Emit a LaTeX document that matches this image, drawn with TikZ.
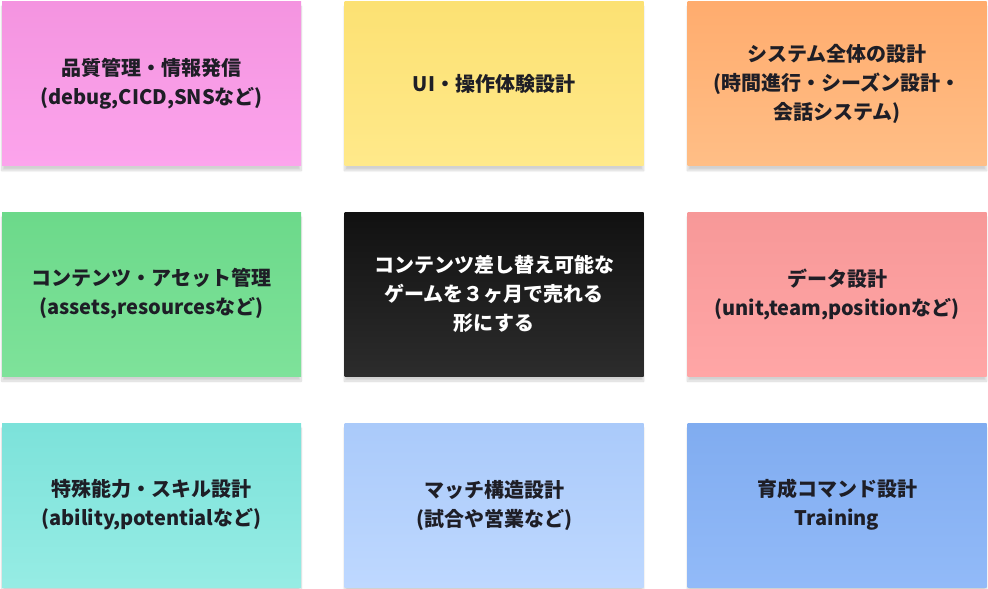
\documentclass[tikz,border=0pt]{standalone}
\usepackage{fontspec}
\usepackage{xcolor}
\usepackage{tikz}
\usetikzlibrary{shadows.blur}
\setmainfont{Noto Sans CJK JP}
\definecolor{inkdark}{HTML}{1E1E26}
\tikzstyle{note} = [rectangle, minimum width=299pt, minimum height=164pt,
inner sep=0pt, align=center, text=inkdark,
font=\fontsize{20}{29}\selectfont\bfseries,
blur shadow={shadow xshift=0pt, shadow yshift=-5pt, shadow blur steps=10, shadow opacity=18}]

\begin{document}
\begin{tikzpicture}[x=1pt, y=-1pt]
        \useasboundingbox (0,0) rectangle (988,589);
        \node [note, top color={rgb,255:red,244;green,148;blue,224}, bottom color={rgb,255:red,252;green,164;blue,236}] (quality) at (151.5,83.5)
            {品質管理・情報発信\\(debug,CICD,SNSなど)};
        \node [note, top color={rgb,255:red,252;green,225;blue,115}, bottom color={rgb,255:red,255;green,233;blue,138}] (ui) at (494,83.5)
            {UI・操作体験設計};
        \node [note, top color={rgb,255:red,255;green,172;blue,110}, bottom color={rgb,255:red,255;green,190;blue,134}] (system) at (837,83.5)
            {システム全体の設計\\(時間進行・シーズン設計・\\会話システム)};
        \node [note, top color={rgb,255:red,108;green,217;blue,138}, bottom color={rgb,255:red,126;green,226;blue,154}] (assets) at (151.5,294)
            {コンテンツ・アセット管理\\(assets,resourcesなど)};
        \node [note, top color={rgb,255:red,17;green,17;blue,17}, bottom color={rgb,255:red,44;green,44;blue,44}, text=white] (goal) at (494,294)
            {コンテンツ差し替え可能な\\ゲームを３ヶ月で売れる\\形にする};
        \node [note, top color={rgb,255:red,247;green,152;blue,152}, bottom color={rgb,255:red,255;green,166;blue,166}] (data) at (837,294)
            {データ設計\\(unit,team,positionなど)};
        \node [note, top color={rgb,255:red,124;green,226;blue,218}, bottom color={rgb,255:red,150;green,236;blue,228}] (skill) at (151.5,505)
            {特殊能力・スキル設計\\(ability,potentialなど)};
        \node [note, top color={rgb,255:red,170;green,202;blue,250}, bottom color={rgb,255:red,190;green,216;blue,255}] (match) at (494,505)
            {マッチ構造設計\\(試合や営業など)};
        \node [note, top color={rgb,255:red,128;green,172;blue,240}, bottom color={rgb,255:red,146;green,186;blue,248}] (training) at (837,505)
            {育成コマンド設計\\Training};
    \end{tikzpicture}
\end{document}
